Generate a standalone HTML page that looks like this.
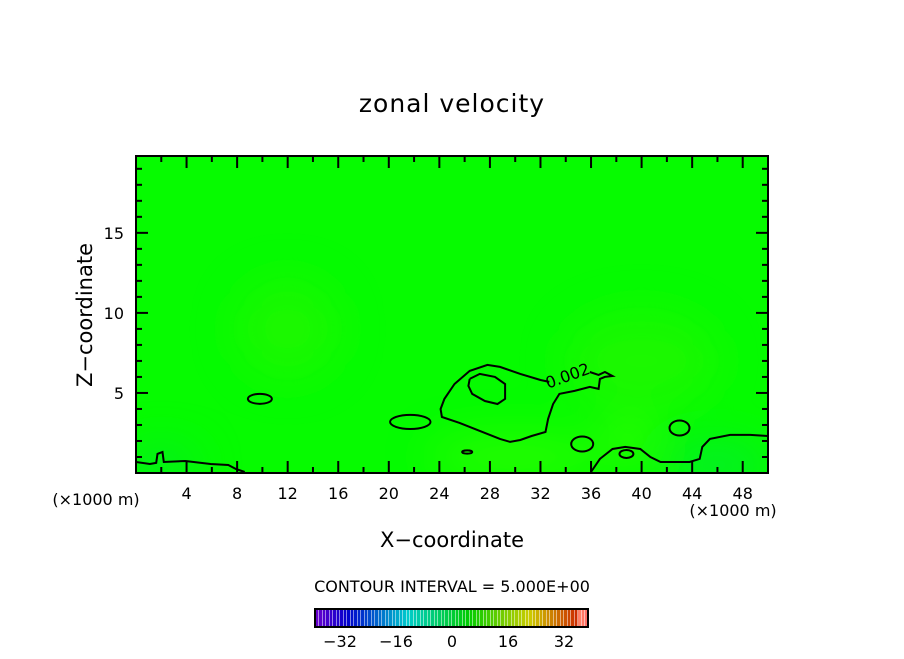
<!DOCTYPE html>
<html><head><meta charset="utf-8"><style>
body{margin:0;background:#fff;}
svg text{font-family:"DejaVu Sans","Liberation Sans",sans-serif;fill:#000;}
</style></head><body>
<svg id="chart" width="904" height="654" viewBox="0 0 904 654" xmlns="http://www.w3.org/2000/svg">
<defs>
<filter id="blur" x="-50%" y="-50%" width="200%" height="200%"><feGaussianBlur stdDeviation="22"/></filter>
<clipPath id="clip"><rect x="136" y="156" width="632" height="317"/></clipPath>
</defs>
<text x="452" y="112" font-size="25" text-anchor="middle" letter-spacing="1">zonal velocity</text>
<g id="plot" clip-path="url(#clip)">
<rect x="136" y="156" width="632" height="317" fill="#06fb00"/>
<g filter="url(#blur)" id="blobs"></g>
<g id="contours" fill="none" stroke="#000" stroke-width="2"></g>
</g>
<rect x="136" y="156" width="632" height="317" fill="none" stroke="#000" stroke-width="2"/>
<g id="axes"></g>
<text x="452" y="547" font-size="21" text-anchor="middle">X−coordinate</text>
<text x="92" y="315" font-size="21" text-anchor="middle" transform="rotate(-90 92 315)">Z−coordinate</text>
<text x="96" y="505" font-size="16" text-anchor="middle">(×1000 m)</text>
<text x="733" y="516" font-size="16" text-anchor="middle">(×1000 m)</text>
<text x="452" y="592" font-size="16" text-anchor="middle">CONTOUR INTERVAL = 5.000E+00</text>
<g id="colorbar"></g>
</svg>
<script>
const xTicks=[4,8,12,16,20,24,28,32,36,40,44,48];
const yTicks=[5,10,15];
const cbTicks=[-32,-16,0,16,32];
const mainContour=[[32.7,5.69],[32.0,5.81],[30.4,6.19],[28.8,6.63],[27.8,6.75],[26.4,6.38],[25.2,5.56],[24.4,4.63],[24.1,4.0],[24.2,3.5],[25.6,3.13],[27.2,2.63],[28.8,2.13],[29.6,1.94],[30.4,2.06],[31.3,2.31],[32.4,2.56],[32.6,3.38],[33.0,4.31],[33.5,4.94],[34.7,5.13],[35.9,5.38],[36.6,5.25],[36.7,5.88],[37.1,6.0],[37.7,6.06],[37.1,6.31],[36.6,6.13],[35.9,6.31]];
const innerContour=[[26.4,5.88],[27.2,6.19],[28.4,6.0],[29.2,5.56],[29.2,4.63],[28.6,4.31],[27.6,4.5],[26.6,4.94],[26.3,5.44],[26.4,5.88]];
const rightContour=[[36.0,0.06],[36.7,0.88],[37.7,1.5],[38.7,1.63],[39.9,1.5],[40.7,1.0],[41.5,0.69],[43.8,0.69],[44.6,0.88],[44.8,1.63],[45.4,2.13],[47.0,2.38],[48.6,2.38],[50,2.31]];
const leftContour=[[0,0.69],[1.1,0.56],[1.6,0.63],[1.7,1.19],[2.1,1.31],[2.2,0.69],[3.9,0.75],[5.9,0.56],[7.3,0.5],[7.9,0.25],[8.6,0.06]];
const loopCenters=[[9.8,4.63],[21.7,3.19],[35.3,1.81],[43.0,2.81],[26.2,1.31],[38.8,1.19]];
const loopRadii=[[0.95,0.31],[1.6,0.44],[0.87,0.47],[0.79,0.47],[0.4,0.1],[0.55,0.25]];
const xMin=0,xMax=50,zMin=0,zMax=19.8;
const X=v=>136+(v-xMin)/(xMax-xMin)*632;
const Z=v=>473-(v-zMin)/(zMax-zMin)*317;
const NS='http://www.w3.org/2000/svg';
function mk(tag,attrs,parent){const e=document.createElementNS(NS,tag);for(const k in attrs)e.setAttribute(k,attrs[k]);parent.appendChild(e);return e;}
const blobs=document.getElementById('blobs');
[[12,9,4,3,'#30f500'],[30,1,7,1.2,'#50ff00'],[40,7,6,3,'#30f500'],[46,0.5,4,1.2,'#00e060'],[39,2,2,1,'#70ff00'],[2,0.5,3,1,'#00e050']].forEach(b=>{
 const e=mk('ellipse',{cx:X(b[0]),cy:Z(b[1]),rx:b[2]*12.64,ry:b[3]*16,fill:b[4],opacity:0.5},blobs);
 
 
});
const cg=document.getElementById('contours');
function line(pts,name){const e=mk('path',{d:pts.map((p,i)=>(i?'L':'M')+X(p[0]).toFixed(1)+','+Z(p[1]).toFixed(1)).join(' ')},cg);
 
 }
line(mainContour,'contour-main');
line(innerContour,'contour-inner');
line(rightContour,'contour-right');
line(leftContour,'contour-left');
loopCenters.forEach((c,i)=>{const e=mk('ellipse',{cx:X(c[0]),cy:Z(c[1]),rx:loopRadii[i][0]*12.64,ry:loopRadii[i][1]*16},cg);
 
 });
const lab=mk('text',{x:X(34.3),y:Z(5.75),'font-size':16,transform:`rotate(-20 ${X(34.3)} ${Z(5.75)})`,'text-anchor':'middle',stroke:'none'},document.getElementById('plot'));
lab.textContent='0.002';


const ax=document.getElementById('axes');
for(let v=2;v<50;v+=2){const major=v%4===0;const len=major?12:6;
 const t=mk('line',{x1:X(v),x2:X(v),y1:473,y2:473-len,stroke:'#000','stroke-width':2},ax);
 
 const t2=mk('line',{x1:X(v),x2:X(v),y1:156,y2:156+len,stroke:'#000','stroke-width':2},ax);
 }
xTicks.forEach(v=>{const t=mk('text',{x:X(v),y:499,'font-size':16,'text-anchor':'middle'},ax);t.textContent=v;
 });
for(let v=1;v<20;v++){const len=v%5===0?12:6;
 const t=mk('line',{x1:136,x2:136+len,y1:Z(v),y2:Z(v),stroke:'#000','stroke-width':2},ax);
 
 const t2=mk('line',{x1:768,x2:768-len,y1:Z(v),y2:Z(v),stroke:'#000','stroke-width':2},ax);
 }
yTicks.forEach(v=>{const t=mk('text',{x:124,y:Z(v)+6,'font-size':16,'text-anchor':'end'},ax);t.textContent=v;
 });
const cb=document.getElementById('colorbar');
const C=v=>452+v*3.5;
for(let v=-39;v<39;v++){const f=(v+39)/78;let h=270-f*270;let col=`hsl(${h},100%,${f>0.96?70:40}%)`;
 const r=mk('rect',{x:C(v),y:609,width:3,height:18,fill:col},cb);
 }
const fr=mk('rect',{x:315,y:609,width:273,height:18,fill:'none',stroke:'#000','stroke-width':2},cb);

cbTicks.forEach(v=>{const t=mk('text',{x:C(v),y:647,'font-size':16,'text-anchor':'middle'},cb);t.textContent=(v<0?'−'+(-v):v);
 });
</script>
</body></html>
